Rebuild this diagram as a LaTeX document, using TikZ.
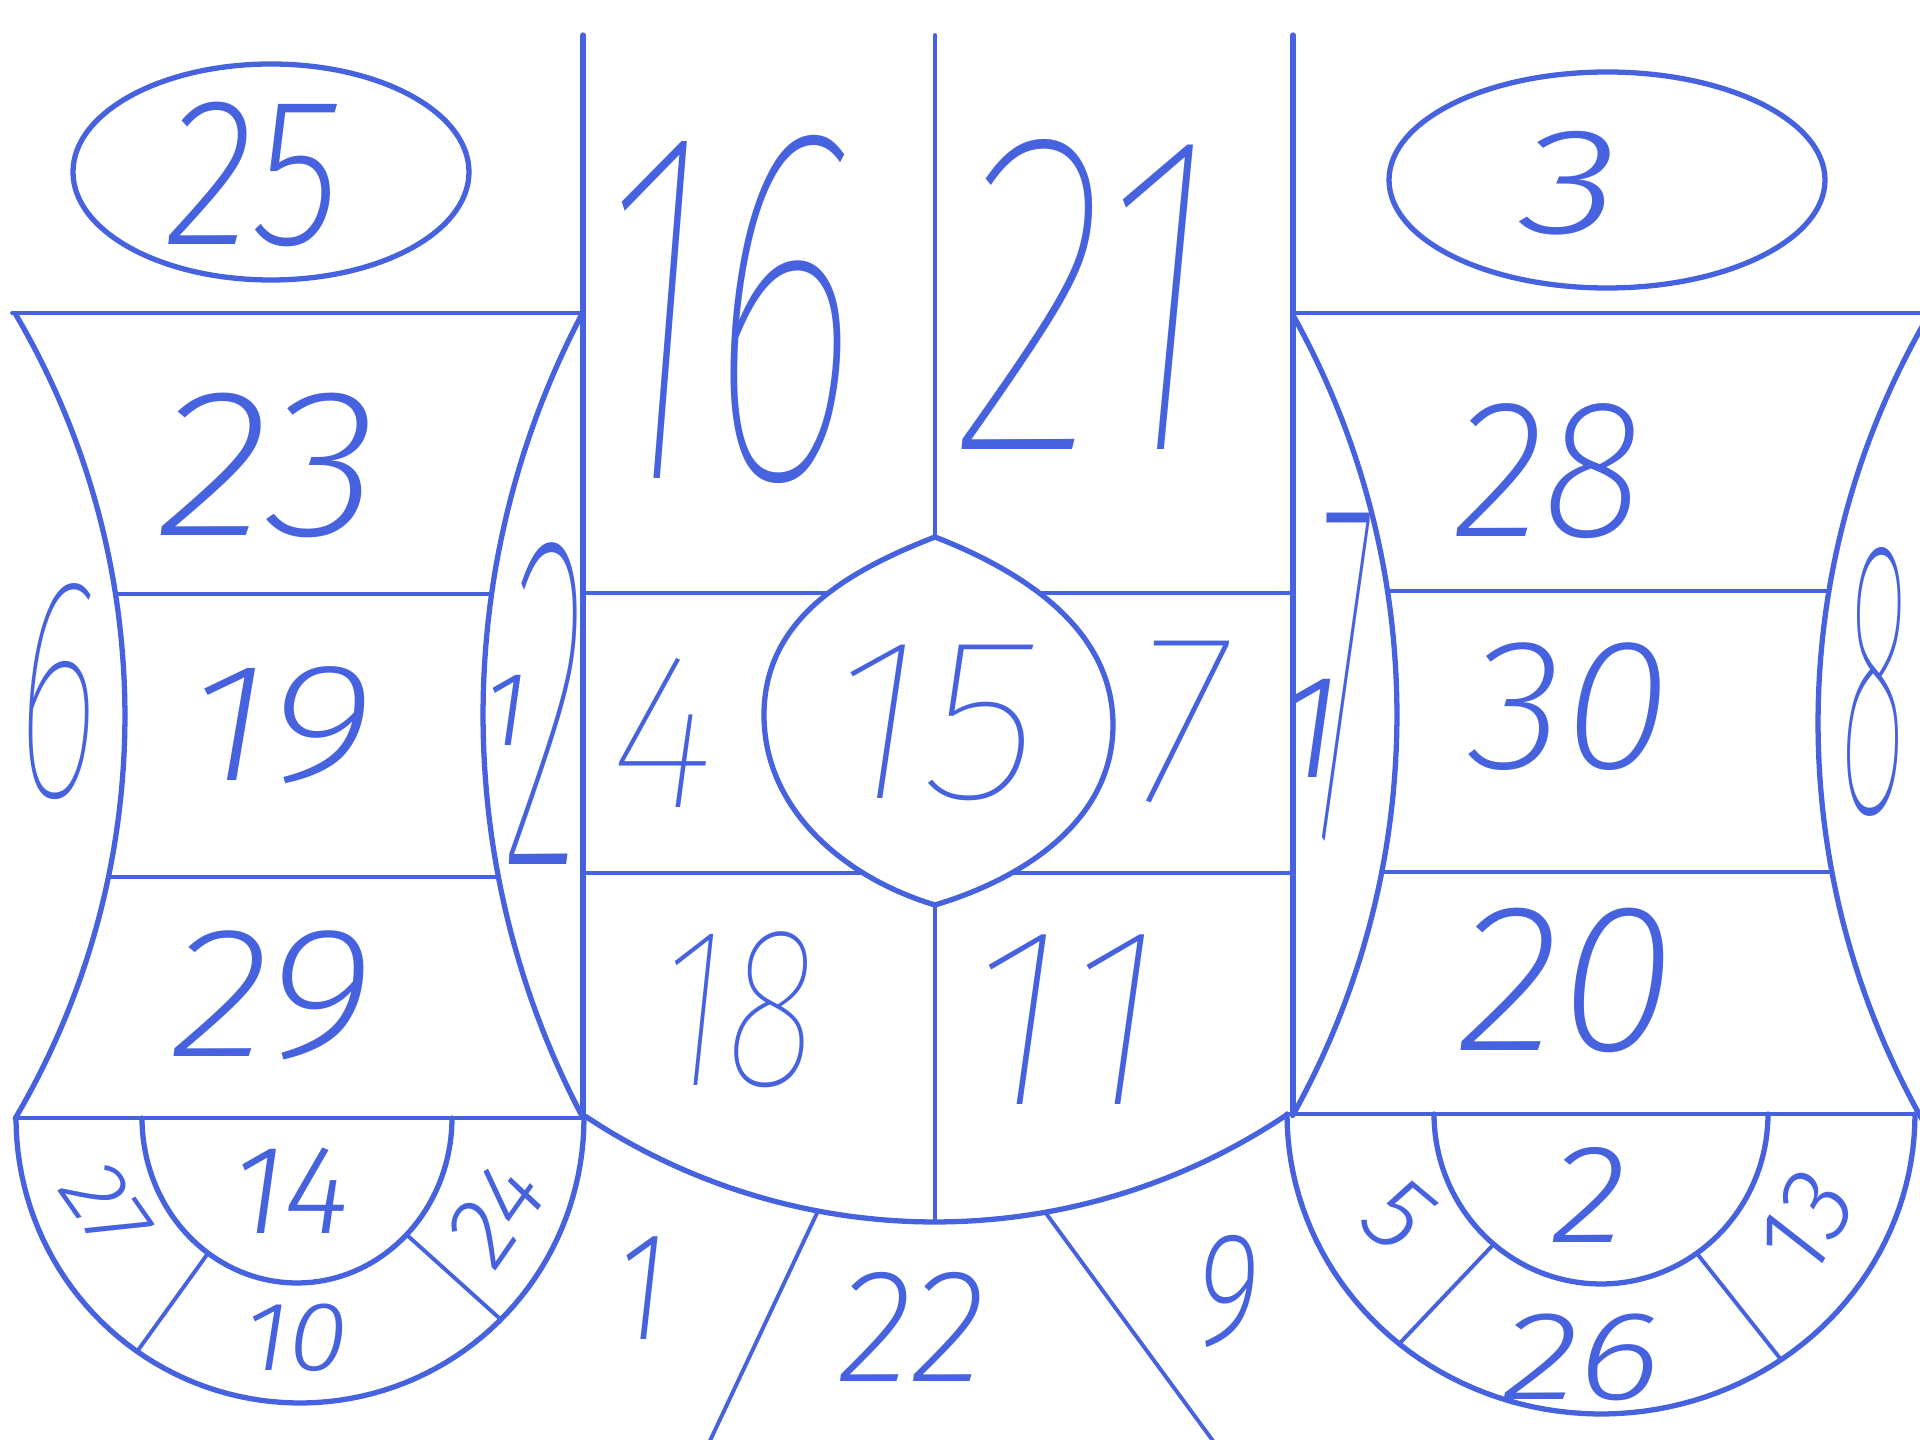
\documentclass[tikz,border=0pt]{standalone}
\usepackage{fontspec}
\newfontfamily\handT{Fira Sans Thin Italic}
\newfontfamily\handE{Fira Sans ExtraLight Italic}
\newfontfamily\handL{Fira Sans Light Italic}
\definecolor{ink}{RGB}{70,98,222}
\newcommand\myfs[1]{\fontsize{#1}{#1}\selectfont}
\begin{document}
\begin{tikzpicture}[x=0.01cm, y=-0.01cm, line join=round, line cap=round,
  ln/.style={draw=ink, line width=1.5pt},
  lnthin/.style={draw=ink, line width=1.1pt},
  lab/.style={text=ink, inner sep=0pt, outer sep=0pt}]
\useasboundingbox (0,0) rectangle (1920,1440);
\fill[white] (0,0) rectangle (1920,1440);
\clip (0,0) rectangle (1920,1440);

% ---------- vertical lines ----------
\draw[ln] (583,35) -- (583,1117);
\draw[lnthin] (935,35) -- (935,1222);
\draw[ln] (1293,35) -- (1293,1114);

% ---------- top ellipses ----------
\draw[ln] (271,172) ellipse [x radius=198, y radius=108];
\draw[ln] (1607,180) ellipse [x radius=218, y radius=108];

% ---------- left block ----------
\draw[lnthin] (12,313) -- (583,313);
\draw[ln] plot[domain=-30.5:30.5, samples=60] ({-668+793*cos(\x)}, {716+793*sin(\x)});
\draw[ln] plot[domain=207.9:152.1, samples=60] ({1345+862*cos(\x)}, {715+862*sin(\x)});
\draw[lnthin] (115.6,594) -- (491.5,594);
\draw[lnthin] (108.5,877) -- (498.4,877);
\draw[lnthin] (15,1118) -- (583,1118);
\draw[ln] plot[domain=180:0, samples=80] ({300+284*cos(\x)}, {1118+285*sin(\x)});
\draw[ln] plot[domain=180:0, samples=80] ({297+155*cos(\x)}, {1118+165*sin(\x)});
\draw[lnthin] (208.1,1253.2) -- (137.1,1351.5);
\draw[lnthin] (406.6,1234.7) -- (500.8,1319.5);

% ---------- middle ----------
\draw[lnthin] (583,593) -- (1293,593);
\draw[lnthin] (583,873) -- (1293,873);
\filldraw[ln, fill=white] (935,537) .. controls (845,572) and (764,620) .. (764,715)
  .. controls (764,810) and (845,878) .. (935,905)
  .. controls (1025,878) and (1113,820) .. (1113,725)
  .. controls (1113,630) and (1025,572) .. (935,537) -- cycle;
\draw[ln] plot[domain=123.6:56.1, samples=80] ({935+631*cos(\x)}, {591+631*sin(\x)});
\coordinate (ra) at (818,1211);
\coordinate (rb) at (708,1445);
\coordinate (rc) at (1045,1212);
\coordinate (rd) at (1216,1445);
\draw[lnthin] (ra) -- (rb);
\draw[lnthin] (rc) -- (rd);

% ---------- right block ----------
\draw[lnthin] (1293,313) -- (1920,313);
\draw[ln] plot[domain=-29.2:29.2, samples=60] ({576+821*cos(\x)}, {715+821*sin(\x)});
\draw[ln] plot[domain=211:149, samples=60] ({2625+807*cos(\x)}, {723+807*sin(\x)});
\draw[lnthin] (1387.6,591) -- (1829,591);
\draw[lnthin] (1382,872) -- (1832,872);
\draw[lnthin] (1290,1114) -- (1920,1114);
\draw[ln] plot[domain=180:0, samples=80] ({1601+314*cos(\x)}, {1114+300*sin(\x)});
\draw[ln] plot[domain=180:0, samples=80] ({1601+167*cos(\x)}, {1114+170*sin(\x)});
\draw[lnthin] (1493.7,1244.2) -- (1399.2,1343.8);
\draw[lnthin] (1696.8,1253.3) -- (1781.1,1359.7);

% ---------- labels ----------
\node[lab, font=\handE\myfs{60}, xscale=0.86] (n25) at (254,174) {25};
\node[lab, font=\handL\myfs{43}, xscale=1.35] (n3)  at (1570,183) {3};
\node[lab, font=\handE\myfs{60}, xscale=1.1]  (n23) at (269,465) {23};
\node[lab, font=\handE\myfs{48}, xscale=1.2]  (n19) at (280,725) {19};
\node[lab, font=\handE\myfs{53}, xscale=1.1]  (n29) at (272,995) {29};
\node[lab, font=\handT\myfs{90}, xscale=0.5]  (n6)  at (58,692) {6};
\node[lab, font=\handL\myfs{30}]              (n12a) at (506,710) {1};
\node[lab, font=\handT\myfs{136}, xscale=0.34] (n12b) at (545,704) {2};
\node[lab, font=\handT\myfs{145}, xscale=0.57] (n16) at (727,309) {16};
\node[lab, font=\handT\myfs{131}, xscale=0.68] (n21) at (1088,294) {21};
\node[lab, font=\handT\myfs{63}, xscale=0.95] (n4)  at (663,733) {4};
\node[lab, font=\handT\myfs{66}, xscale=1.05] (n15) at (934,723) {15};
\node[lab, font=\handT\myfs{69}, xscale=0.88] (n7)  at (1181,722) {7};
\node[lab, font=\handT\myfs{65}, xscale=0.75] (n18) at (738,1010) {18};
\node[lab, font=\handT\myfs{73}, xscale=1.0]  (n11) at (1065,1020) {11};
\node[lab, font=\handL\myfs{42}]              (n17a) at (1310,728) {1};
\node[lab, font=\handT\myfs{140}, xscale=0.25] (n17b) at (1342,677) {7};
\node[lab, font=\handE\myfs{56}, xscale=0.95] (n28) at (1549,471) {28};
\node[lab, font=\handE\myfs{53}, xscale=1.05] (n30) at (1570,707) {30};
\node[lab, font=\handE\myfs{60}, xscale=1.0]  (n20) at (1567,980) {20};
\node[lab, font=\handT\myfs{112}, xscale=0.32] (n8) at (1875,682) {8};
\node[lab, font=\handE\myfs{44}, xscale=0.8]  (n1)  at (642,1288) {1};
\node[lab, font=\handE\myfs{46}, xscale=0.95] (n22) at (912,1327) {22};
\node[lab, font=\handE\myfs{46}, xscale=0.75] (n9)  at (1228,1291) {9};
\node[lab, font=\handL\myfs{36}, xscale=1.0]  (n14) at (291,1191) {14};
\node[lab, font=\handL\myfs{28}, xscale=1.1]  (n10) at (296,1338) {10};
\node[lab, font=\handL\myfs{26}, rotate=-55]  (n27) at (106,1207) {27};
\node[lab, font=\handL\myfs{28}, rotate=55]   (n24) at (496,1213) {24};
\node[lab, font=\handL\myfs{30}, rotate=-40]  (n5)  at (1398,1215) {5};
\node[lab, font=\handL\myfs{40}, xscale=1.1]  (n2)  at (1589,1195) {2};
\node[lab, font=\handL\myfs{30}, rotate=60]   (n13) at (1806,1223) {13};
\node[lab, font=\handL\myfs{36}, xscale=1.25] (n26) at (1582,1357) {26};
\end{tikzpicture}
\end{document}
